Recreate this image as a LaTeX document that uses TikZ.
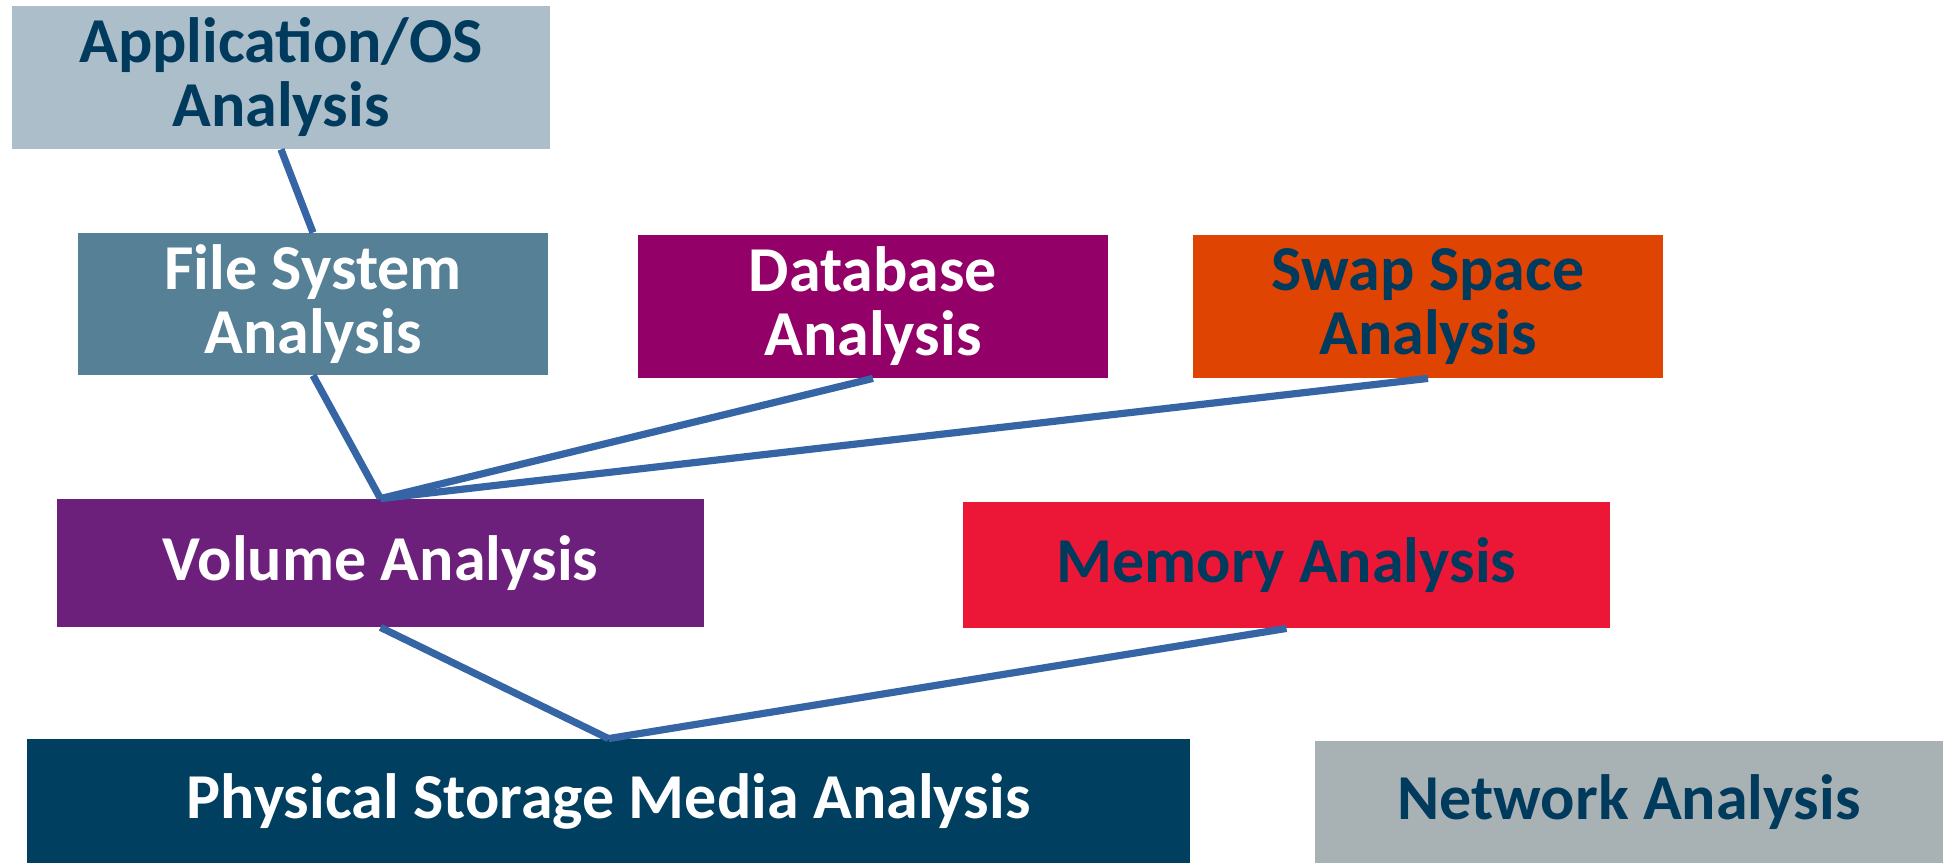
\documentclass[tikz,border=0pt]{standalone}
\usepackage{fontspec}
\setmainfont{Carlito}
\definecolor{navy}{HTML}{003A5D}
\definecolor{appbg}{HTML}{ABBECA}
\definecolor{fsbg}{HTML}{568096}
\definecolor{dbbg}{HTML}{930067}
\definecolor{swapbg}{HTML}{E04403}
\definecolor{volbg}{HTML}{6C1F7B}
\definecolor{membg}{HTML}{EC1737}
\definecolor{physbg}{HTML}{003F5F}
\definecolor{netbg}{HTML}{A8B2B4}
\definecolor{linkblue}{HTML}{3565A5}
\tikzset{
  layer/.style={rectangle, inner sep=0pt, align=center,
    font=\fontsize{32pt}{32pt}\selectfont\bfseries},
  link/.style={draw=linkblue, line width=3.6pt}
}
\begin{document}
\begin{tikzpicture}[x=0.5pt, y=-0.5pt]
\useasboundingbox[fill=white] (0,0) rectangle (1943,863);
% analysis layers
\node[layer, fill=appbg, text=navy, minimum width=269pt, minimum height=71.5pt] (app) at (281,77.5) {Application/OS\\Analysis};
\node[layer, fill=fsbg, text=white, minimum width=235pt, minimum height=71pt] (fs) at (313,304) {File System\\Analysis};
\node[layer, fill=dbbg, text=white, minimum width=235pt, minimum height=71.5pt] (db) at (873,306.5) {Database\\Analysis};
\node[layer, fill=swapbg, text=navy, minimum width=235pt, minimum height=71.5pt] (swap) at (1428,306.5) {Swap Space\\Analysis};
\node[layer, fill=volbg, text=white, minimum width=323.5pt, minimum height=64pt] (vol) at (380.5,563) {Volume Analysis};
\node[layer, fill=membg, text=navy, minimum width=323.5pt, minimum height=63pt] (mem) at (1286.5,565) {Memory Analysis};
\node[layer, fill=physbg, text=white, minimum width=581.5pt, minimum height=62pt] (phys) at (608.5,801) {Physical Storage Media Analysis};
\node[layer, fill=netbg, text=navy, minimum width=314pt, minimum height=61pt] (net) at (1629,802) {Network Analysis};
% dependencies between layers
\draw[link] (app.south) -- (fs.north);
\draw[link] (fs.south) -- (vol.north);
\draw[link] (db.south) -- (vol.north);
\draw[link] (swap.south) -- (vol.north);
\draw[link] (vol.south) -- (phys.north);
\draw[link] (mem.south) -- (phys.north);
\end{tikzpicture}
\end{document}
